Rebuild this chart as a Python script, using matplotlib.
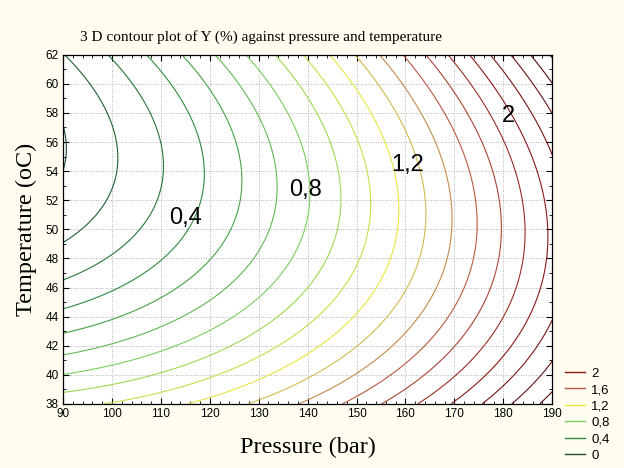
import matplotlib.pyplot as plt
import numpy as np
from matplotlib.colors import LinearSegmentedColormap
from matplotlib.lines import Line2D

# fitted response surface:
# Y = b0 + b1*p + b11*p^2 + b22*t^2 + b12*p*t,  p = P - p_ref, t = T - t_ref
p_ref = 90.0
t_ref = 55.6
b0 = -0.008
b1 = 0.0116
b11 = 1.0e-4
b22 = 0.00333
b12 = 0.00041

pressure_lim = [90, 190]
temperature_lim = [38, 62]

levels = [0.0, 0.133, 0.267, 0.4, 0.533, 0.667, 0.8, 0.933, 1.067, 1.2,
          1.333, 1.467, 1.6, 1.733, 1.867, 2.0, 2.133, 2.267, 2.4, 2.533]

# colour scale of the lines (value, colour)
stop_values = [0.0, 0.4, 0.8, 1.2, 1.4, 1.6, 2.0, 2.6]
stop_colors = ["#1c4a2a", "#2e8b40", "#7ccf5e", "#e8e840", "#c8a456",
               "#b85a40", "#8a1818", "#3a0808"]

legend_values = [2.0, 1.6, 1.2, 0.8, 0.4, 0.0]
legend_labels = ["2", "1,6", "1,2", "0,8", "0,4", "0"]

label_texts = ["0,4", "0,8", "1,2", "2"]
label_pressure = [115, 139.5, 160.5, 181]
label_temperature = [50.8, 52.7, 54.4, 57.8]

cmap = LinearSegmentedColormap.from_list(
    "stat", [((v - stop_values[0]) / (stop_values[-1] - stop_values[0]), c)
             for v, c in zip(stop_values, stop_colors)])


def color_of(v):
    return cmap((v - stop_values[0]) / (stop_values[-1] - stop_values[0]))


P = np.linspace(pressure_lim[0], pressure_lim[1], 201)
T = np.linspace(temperature_lim[0], temperature_lim[1], 193)
PP, TT = np.meshgrid(P, T)
p = PP - p_ref
t = TT - t_ref
Y = b0 + b1 * p + b11 * p**2 + b22 * t**2 + b12 * p * t

fig = plt.figure(figsize=(6.24, 4.68), dpi=100, facecolor="#fffcf0")
ax = fig.add_axes([0.101, 0.137, 0.784, 0.746])
ax.set_facecolor("white")

ax.contour(PP, TT, Y, levels=levels,
           colors=[color_of(v) for v in levels], linewidths=0.8)

for txt, px, ty in zip(label_texts, label_pressure, label_temperature):
    ax.text(px, ty, txt, ha="center", va="center", fontsize=17,
            family="Liberation Sans", color="black")

ax.set_xlim(pressure_lim)
ax.set_ylim(temperature_lim)
ax.set_xticks(np.arange(90, 191, 10))
ax.set_yticks(np.arange(38, 63, 2))
ax.set_xticks(np.arange(90, 191, 2), minor=True)
ax.set_yticks(np.arange(38, 63, 1), minor=True)
ax.tick_params(which="both", direction="in", top=True, right=True,
               labelsize=8.5, colors="black", pad=3)
ax.tick_params(which="major", length=4, width=0.8)
ax.tick_params(which="minor", length=2.5, width=0.6)
for lab in ax.get_xticklabels() + ax.get_yticklabels():
    lab.set_family("Liberation Sans")
ax.grid(True, which="major", linestyle=(0, (1, 2)), color="#9a9a9a", linewidth=0.6)
for s in ax.spines.values():
    s.set_linewidth(0.9)

fig.text(261 / 624, 1 - 37 / 468,
         "3 D contour plot of Y (%) against pressure and temperature",
         family="Liberation Serif", fontsize=11, ha="center", va="center")
ax.set_xlabel("Pressure (bar)", family="Liberation Serif", fontsize=17.5, labelpad=12)
ax.set_ylabel("Temperature (oC)", family="Liberation Serif", fontsize=17.5, labelpad=6)

handles = [Line2D([], [], color=color_of(v), linewidth=1.0) for v in legend_values]
leg = fig.legend(handles, legend_labels, loc="upper left",
                 bbox_to_anchor=(0.905, 0.215), frameon=False,
                 prop={"family": "Liberation Sans", "size": 9.5},
                 handlelength=1.5, handletextpad=0.5, labelspacing=0.32,
                 borderaxespad=0, borderpad=0)

fig.savefig("out.png", dpi=100, facecolor=fig.get_facecolor())
